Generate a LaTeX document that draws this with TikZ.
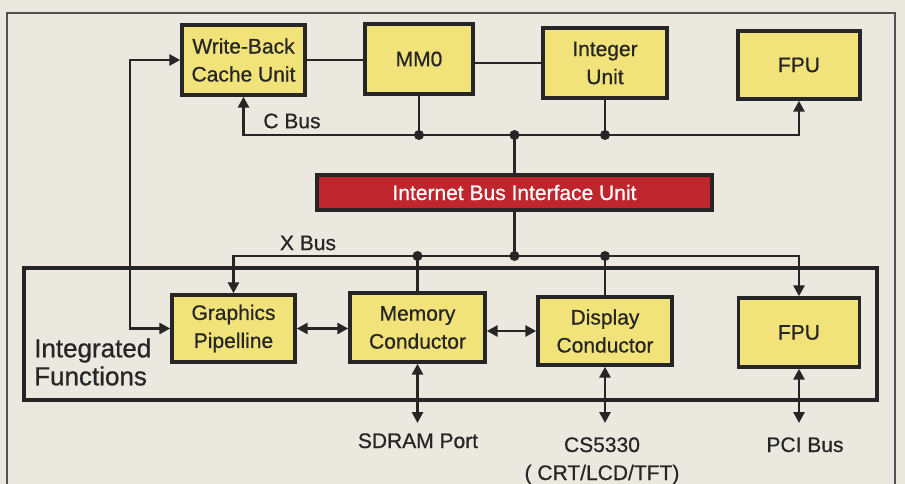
\documentclass[tikz,border=0pt]{standalone}
\usepackage{fontspec}
\setmainfont{Liberation Sans}[FakeBold=0.7]
\usetikzlibrary{arrows.meta}
\definecolor{paper}{HTML}{EBE8DF}
\definecolor{boxy}{HTML}{F2E27A}
\definecolor{busred}{HTML}{BF252C}
\definecolor{ink}{HTML}{262626}
\begin{document}
\begin{tikzpicture}[x=1pt,y=-1pt,
  unit/.style={draw=ink, fill=boxy, line width=3.4pt, align=center, text=ink,
    font=\fontsize{21}{28}\selectfont, inner sep=0pt},
  conn/.style={draw=ink, line width=2.8pt},
  arr/.style={-{Triangle[length=11pt,width=11pt]}},
  both/.style={{Triangle[length=11pt,width=11pt]}-{Triangle[length=11pt,width=11pt]}},
  lbl/.style={text=ink, font=\fontsize{21}{28}\selectfont, inner sep=0pt},
  dot/.style={fill=ink}]
\fill[paper] (0,0) rectangle (905,484);
\useasboundingbox (0,0) rectangle (905,484);
\draw[ink!80, line width=1.2pt] (7,13) rectangle (895,500);

% top row
\node[unit, minimum width=123pt, minimum height=70pt] (wb) at (243.5,60) {Write-Back\\Cache Unit};
\node[unit, minimum width=108pt, minimum height=70pt] (mmo) at (419,59) {MM0};
\node[unit, minimum width=124pt, minimum height=70pt] (intu) at (605,63) {Integer\\Unit};
\node[unit, minimum width=122pt, minimum height=68pt] (fpua) at (799,65) {FPU};

\node[draw=ink, fill=busred, line width=3.4pt, minimum width=395pt, minimum height=35pt,
  text=white, font=\fontsize{21}{24}\selectfont, inner sep=0pt] (ibiu) at (514.5,192.5) {Internet Bus Interface Unit};

% integrated functions frame
\node[draw=ink, line width=3.4pt, minimum width=853pt, minimum height=132pt, inner sep=0pt] (intf) at (450.5,334) {};
\node[lbl, font=\fontsize{26}{28}\selectfont, align=left, anchor=west] (intl) at (34,362) {Integrated\\Functions};

% bottom row
\node[unit, minimum width=123pt, minimum height=67pt] (gp) at (233.5,328.5) {Graphics\\Pipelline};
\node[unit, minimum width=135pt, minimum height=69pt] (mc) at (417.5,327.5) {Memory\\Conductor};
\node[unit, minimum width=134pt, minimum height=68pt] (dc) at (605,331) {Display\\Conductor};
\node[unit, minimum width=121pt, minimum height=69pt] (fpub) at (799,332.5) {FPU};

% bus coordinates
\coordinate (cbus) at (500,135);
\coordinate (xbus) at (500,256);
\coordinate (lft) at (130,200);
\coordinate (tips) at (0,423);

% labels
\node[lbl] (cbl) at (292,121) {C Bus};
\node[lbl] (xbl) at (308,243) {X Bus};
\node[lbl, anchor=base] (sdram) at (418,448) {SDRAM Port};
\node[lbl, anchor=base] (cs) at (602,452) {CS5330};
\node[lbl, anchor=base] (crt) at (602,480) {( CRT/LCD/TFT)};
\node[lbl, anchor=base] (pci) at (805,452) {PCI Bus};

% top connections
\draw[conn] (wb.east) -- (wb.east -| mmo.west);
\draw[conn] (intu.west -| mmo.east) -- (intu.west);
\draw[conn, both] (wb.south) |- (cbus) -| (fpua.south);
\draw[conn] (mmo.south) -- (mmo.south |- cbus);
\draw[conn] (intu.south) -- (intu.south |- cbus);
\draw[conn] (ibiu.north) -- (ibiu.north |- cbus);
\fill[dot] (mmo.south |- cbus) circle (5pt);
\fill[dot] (intu.south |- cbus) circle (5pt);
\fill[dot] (ibiu.north |- cbus) circle (5pt);

% X bus
\draw[conn] (ibiu.south) -- (ibiu.south |- xbus);
\draw[conn, both] (gp.north) |- (xbus) -| (fpub.north);
\draw[conn] (mc.north) -- (mc.north |- xbus);
\draw[conn] (dc.north) -- (dc.north |- xbus);
\fill[dot] (mc.north |- xbus) circle (5pt);
\fill[dot] (ibiu.south |- xbus) circle (5pt);
\fill[dot] (dc.north |- xbus) circle (5pt);

% left feed
\draw[conn, both] (wb.west) -| (lft) |- (gp.west);

% inter-unit
\draw[conn, both] (gp.east) -- (gp.east -| mc.west);
\draw[conn, both] (dc.west -| mc.east) -- (dc.west);

% external ports
\draw[conn, both] (mc.south) -- (mc.south |- tips);
\draw[conn, both] (dc.south) -- (dc.south |- tips);
\draw[conn, both] (fpub.south) -- (fpub.south |- tips);
\end{tikzpicture}
\end{document}
